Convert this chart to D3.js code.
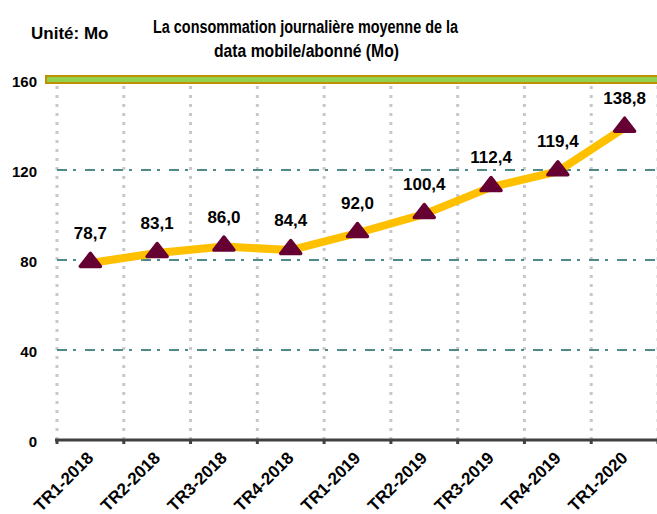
<!DOCTYPE html>
<html>
<head>
<meta charset="utf-8">
<script src="https://cdn.jsdelivr.net/npm/d3@7"></script>
<style>
  body { margin: 0; background: #fff; }
  text { font-family: "Liberation Sans", Arial, sans-serif; font-weight: bold; fill: #000; }
</style>
</head>
<body>
<script>
var categories = ["TR1-2018", "TR2-2018", "TR3-2018", "TR4-2018", "TR1-2019", "TR2-2019", "TR3-2019", "TR4-2019", "TR1-2020"];
var values = [78.7, 83.1, 86.0, 84.4, 92.0, 100.4, 112.4, 119.4, 138.8];
var yTicks = [0, 40, 80, 120, 160];

var w = 657;
var h = 514;

var svg = d3.select("body").append("svg")
  .attr("width", w)
  .attr("height", h);

// plot area
var pLeft = 57, pRight = 658, pTop = 80, pBottom = 440;

var x = d3.scaleBand()
  .domain(categories)
  .range([pLeft, pRight])
  .padding(0);

var y = d3.scaleLinear()
  .domain([0, 160])
  .range([pBottom, pTop]);

// titles
svg.append("text")
  .attr("x", 31).attr("y", 39)
  .style("font-size", "17px")
  .text("Unité: Mo");

svg.append("text")
  .attr("x", 153).attr("y", 33)
  .attr("textLength", 305)
  .attr("lengthAdjust", "spacingAndGlyphs")
  .style("font-size", "18px")
  .text("La consommation journalière moyenne de la");

svg.append("text")
  .attr("x", 214).attr("y", 57)
  .attr("textLength", 185)
  .attr("lengthAdjust", "spacingAndGlyphs")
  .style("font-size", "18px")
  .text("data mobile/abonné (Mo)");

// vertical dotted grid at band edges
var edges = categories.map(function(c) { return x(c); }).concat([x.range()[1]]);
svg.selectAll("line.vgrid")
  .data(edges)
  .enter().append("line")
  .attr("class", "vgrid")
  .attr("x1", function(d) { return d; })
  .attr("x2", function(d) { return d; })
  .attr("y1", y(160) + 6)
  .attr("y2", pBottom)
  .style("stroke", "#c8c8c8")
  .style("stroke-width", 3)
  .style("stroke-dasharray", "3,6");

// horizontal dash-dot grid
svg.selectAll("line.hgrid")
  .data([40, 80, 120])
  .enter().append("line")
  .attr("class", "hgrid")
  .attr("x1", pLeft)
  .attr("x2", w)
  .attr("y1", function(d) { return y(d); })
  .attr("y2", function(d) { return y(d); })
  .style("stroke", "#4f8a8b")
  .style("stroke-width", 2)
  .style("stroke-dasharray", "10,6,3,9");

// top band at 160
svg.append("rect")
  .attr("x", 46)
  .attr("y", y(160) - 4)
  .attr("width", w - 46 + 5)
  .attr("height", 7)
  .style("fill", "#92d050")
  .style("stroke", "#bf9000")
  .style("stroke-width", 2);

// y labels
svg.selectAll("text.ylab")
  .data(yTicks)
  .enter().append("text")
  .attr("class", "ylab")
  .attr("x", 37)
  .attr("y", function(d) { return y(d); })
  .attr("dy", "0.45em")
  .attr("text-anchor", "end")
  .style("font-size", "15px")
  .text(function(d) { return d; });

// x axis line and tick marks
svg.append("line")
  .attr("x1", pLeft - 2).attr("x2", w)
  .attr("y1", pBottom).attr("y2", pBottom)
  .style("stroke", "#404040")
  .style("stroke-width", 3);

svg.selectAll("rect.tick")
  .data(edges)
  .enter().append("rect")
  .attr("class", "tick")
  .attr("x", function(d) { return d - 1.5; })
  .attr("y", pBottom)
  .attr("width", 3)
  .attr("height", 4)
  .style("fill", "#404040");

// x labels rotated
svg.selectAll("text.xlab")
  .data(categories)
  .enter().append("text")
  .attr("class", "xlab")
  .attr("text-anchor", "end")
  .attr("transform", function(d) {
    return "translate(" + (x(d) + x.bandwidth() / 2 + 4) + "," + (pBottom + 19) + ") rotate(-45)";
  })
  .style("font-size", "17px")
  .text(function(d) { return d; });

// line
var line = d3.line()
  .x(function(d, i) { return x(categories[i]) + x.bandwidth() / 2; })
  .y(function(d) { return y(d); });

svg.append("path")
  .datum(values)
  .attr("d", line)
  .style("fill", "none")
  .style("stroke", "#ffc000")
  .style("stroke-width", 8)
  .style("stroke-linejoin", "round");

// triangle markers
svg.selectAll("path.marker")
  .data(values)
  .enter().append("path")
  .attr("class", "marker")
  .attr("d", "M0,-9.5L-10,3.5L10,3.5Z")
  .attr("transform", function(d, i) {
    return "translate(" + (x(categories[i]) + x.bandwidth() / 2) + "," + y(d) + ")";
  })
  .style("fill", "#660033")
  .style("stroke", "#660033")
  .style("stroke-width", 3.5)
  .style("stroke-linejoin", "round");

// data labels
svg.selectAll("text.dlab")
  .data(values)
  .enter().append("text")
  .attr("class", "dlab")
  .attr("text-anchor", "middle")
  .attr("x", function(d, i) { return x(categories[i]) + x.bandwidth() / 2; })
  .attr("y", function(d) { return y(d) - 24; })
  .style("font-size", "17px")
  .text(function(d) { return d.toFixed(1).replace(".", ","); });
</script>
</body>
</html>
